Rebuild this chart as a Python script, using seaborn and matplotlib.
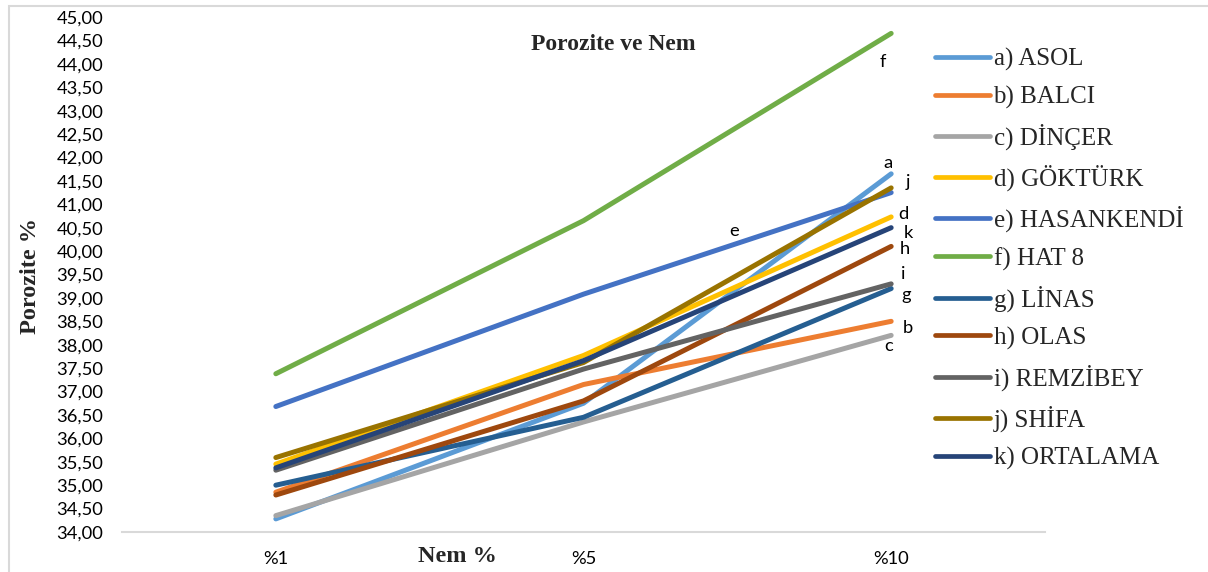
import matplotlib
matplotlib.use("Agg")
import matplotlib.pyplot as plt
import matplotlib.patches as mpatches
from matplotlib.ticker import FixedLocator, FixedFormatter
import seaborn as sns
import pandas as pd
import numpy as np

# ---------------- data ----------------
categories = ["%1", "%5", "%10"]
series_names = ["a) ASOL", "b) BALCI", "c) DİNÇER", "d) GÖKTÜRK", "e) HASANKENDİ",
                "f) HAT 8", "g) LİNAS", "h) OLAS", "i) REMZİBEY", "j) SHİFA", "k) ORTALAMA"]
series_letters = ["a", "b", "c", "d", "e", "f", "g", "h", "i", "j", "k"]

asol = [34.28, 36.75, 41.65]
balci = [34.85, 37.15, 38.50]
dincer = [34.35, 36.35, 38.20]
gokturk = [35.45, 37.77, 40.73]
hasankendi = [36.68, 39.08, 41.25]
hat8 = [37.38, 40.65, 44.65]
linas = [35.00, 36.45, 39.20]
olas = [34.79, 36.80, 40.10]
remzibey = [35.32, 37.48, 39.30]
shifa = [35.59, 37.62, 41.35]
ortalama = [35.37, 37.66, 40.50]

y_ticks = [34 + 0.5 * i for i in range(23)]
y_tick_labels = [f"{v:.2f}".replace(".", ",") for v in y_ticks]

all_values = [asol, balci, dincer, gokturk, hasankendi, hat8, linas, olas,
              remzibey, shifa, ortalama]

# ---------------- styles ----------------
colors = ["#5B9BD5", "#ED7D31", "#A5A5A5", "#FFC000", "#4472C4", "#70AD47",
          "#255E91", "#9E480E", "#636363", "#997300", "#264478"]
# label offsets in pixels (dx, dy with dy positive = down) relative to end point
label_offsets_px = {
    "a": (-3, -11), "b": (17, 7), "c": (-3, 11), "d": (12, -3), "f": (-8, 29),
    "g": (15, 6), "h": (14, 3), "i": (12, -10), "j": (17, -6), "k": (17, 5),
}

rows = []
for name, vals in zip(series_names, all_values):
    for c, v in zip(categories, vals):
        rows.append({"Nem": c, "Porozite": v, "Seri": name})
df = pd.DataFrame(rows)

sns.set_style("white")
W, H = 1208, 572
fig = plt.figure(figsize=(W / 100, H / 100), dpi=100)
ax = fig.add_axes([122 / W, 1 - 532 / H, (1045 - 122) / W, (532 - 17) / H])

palette = dict(zip(series_names, colors))
sns.lineplot(data=df, x="Nem", y="Porozite", hue="Seri", hue_order=series_names,
             palette=palette, linewidth=3.6, sort=False, ax=ax, legend=True,
             solid_capstyle="round", solid_joinstyle="round")

ax.set_xlim(-0.5, len(categories) - 0.5)
ax.set_ylim(34, 45)
ax.yaxis.set_major_locator(FixedLocator(y_ticks))
ax.yaxis.set_major_formatter(FixedFormatter(y_tick_labels))

tick_font = "Lato"
for lab in ax.get_yticklabels():
    lab.set_fontfamily(tick_font)
    lab.set_fontsize(13.2)
    lab.set_color("#000000")
ax.tick_params(axis="y", length=0, pad=13.5)
ax.set_xticks(range(len(categories)))
ax.set_xticklabels(categories, fontfamily=tick_font, fontsize=13.2, color="#000000")
ax.tick_params(axis="x", which="major", length=0, pad=14)
ax.set_xticks([i - 0.5 for i in range(len(categories) + 1)], minor=True)
ax.tick_params(axis="x", which="minor", length=7, width=1.5, color="#D9D9D9", direction="out")
ax.set_xlabel("")
ax.set_ylabel("")
for s in ["top", "right", "left"]:
    ax.spines[s].set_visible(False)
ax.spines["bottom"].set_color("#D9D9D9")
ax.spines["bottom"].set_linewidth(1.5)
ax.grid(False)
ax.patch.set_alpha(0)

# letter labels at line ends
last_idx = len(categories) - 1
for letter, vals in zip(series_letters, all_values):
    if letter in label_offsets_px:
        dx, dy = label_offsets_px[letter]
        ax.annotate(letter, xy=(last_idx, vals[-1]), xytext=(dx * 0.72, -dy * 0.72),
                    textcoords="offset points", ha="center", va="center",
                    fontfamily=tick_font, fontsize=13.2, color="#000000")
# label 'e' placed mid-segment
e_vals = hasankendi
ax.annotate("e", xy=(1.5, (e_vals[1] + e_vals[2]) / 2), xytext=(-3 * 0.72, 12 * 0.72),
            textcoords="offset points", ha="center", va="center",
            fontfamily=tick_font, fontsize=13.2, color="#000000")

# legend
handles, labels = ax.get_legend_handles_labels()
leg = ax.legend(handles, labels, loc="upper left",
                bbox_to_anchor=(935 / W, 1 - 48 / H), bbox_transform=fig.transFigure,
                frameon=False, prop={"family": "Liberation Serif", "size": 18},
                handlelength=2.2, handletextpad=0.14, labelspacing=0.59,
                borderaxespad=0, borderpad=0)
for line in leg.get_lines():
    line.set_linewidth(3.4)

# titles
serif_bold = {"family": "Liberation Serif", "weight": "bold"}
fig.text(613 / W, 1 - 45 / H, "Porozite ve Nem", ha="center", va="center",
         fontsize=17, **serif_bold)
fig.text(457 / W, 1 - 556 / H, "Nem %", ha="center", va="center",
         fontsize=17.5, **serif_bold)
fig.text(31 / W, 1 - 276 / H, "Porozite %", ha="center", va="center",
         rotation=90, fontsize=17.5, **serif_bold)

# outer chart border
fig.patches.append(mpatches.Rectangle((9 / W, -0.05), 1.1, 1 - 6 / H + 0.05,
                                      transform=fig.transFigure, fill=False,
                                      edgecolor="#D9D9D9", linewidth=1.5))

fig.savefig("out.png", dpi=100)
